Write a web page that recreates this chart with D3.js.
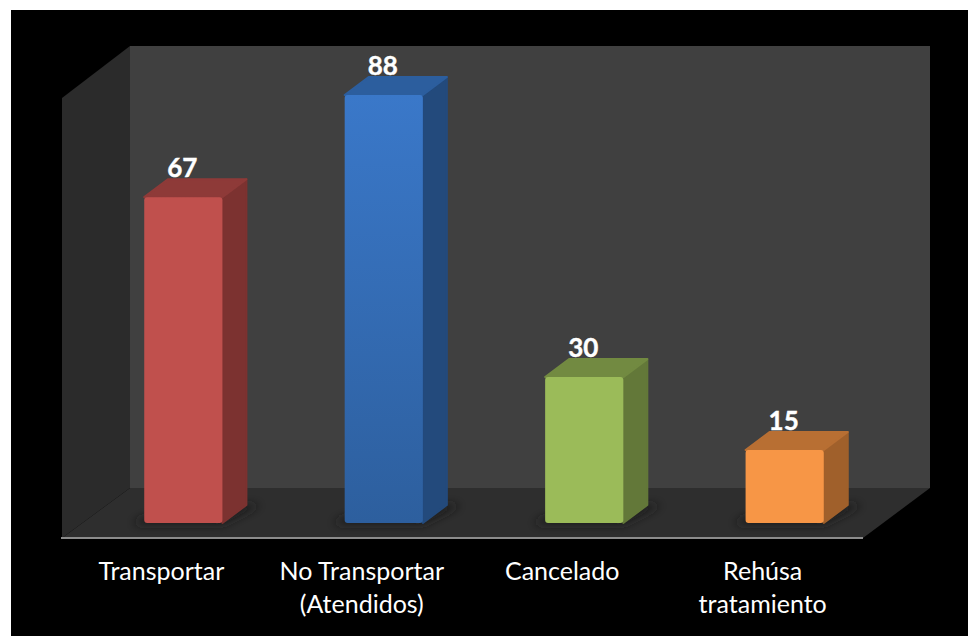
<!DOCTYPE html>
<html>
<head>
<meta charset="utf-8">
<script src="https://cdn.jsdelivr.net/npm/d3@7"></script>
<style>
html, body { margin: 0; padding: 0; background: #fff; }
svg { display: block; }
text { font-family: Lato, "Open Sans", sans-serif; fill: #fff; }
</style>
</head>
<body>
<svg id="chart" width="968" height="636"></svg>
<script>
const categories = ["Transportar", "No Transportar (Atendidos)", "Cancelado", "Rehúsa tratamiento"];
const values = [67, 88, 30, 15];
const labelLines = [["Transportar"], ["No Transportar", "(Atendidos)"], ["Cancelado"], ["Rehúsa", "tratamiento"]];
const frontColors = ["#c0504d", "#3a78c9", "#9bbb59", "#f79646"];
const bottomColors = ["#c0504d", "#2d5f9e", "#9bbb59", "#f79646"];
const topColors = ["#8e3a38", "#2c5e9e", "#728a41", "#b86f33"];
const sideColors = ["#7c3230", "#234a7c", "#637839", "#a0602b"];

const svg = d3.select("#chart");

let x = d3.scaleBand()
    .domain(categories)
    .range([83.5, 884.5])
    .paddingInner(0.61)
    .paddingOuter(0.303);

let y = d3.scaleLinear()
    .domain([0, 88])
    .range([523, 95]);

// depth of the fake 3d
const dx = 24, dy = -18;

let defs = svg.append("defs");

let blur = defs.append("filter").attr("id", "blur")
    .attr("x", "-30%").attr("y", "-100%").attr("width", "160%").attr("height", "300%");
blur.append("feGaussianBlur").attr("stdDeviation", 5);

categories.forEach((c, i) => {
    let g = defs.append("linearGradient").attr("id", "front" + i)
        .attr("x1", 0).attr("y1", 0).attr("x2", 0).attr("y2", 1);
    g.append("stop").attr("offset", "0%").attr("stop-color", frontColors[i]);
    g.append("stop").attr("offset", "100%").attr("stop-color", bottomColors[i]);
});

// page background
svg.append("rect").attr("x", 11).attr("y", 10).attr("width", 957).attr("height", 626).attr("fill", "#000");

// walls and floor
svg.append("path").attr("d", "M130,46H930V488H130Z").attr("fill", "#404040");
svg.append("path").attr("d", "M62,98L130,46V488L62,538Z").attr("fill", "#2b2b2b");
svg.append("path").attr("d", "M62,538L130,488H930L863,538Z").attr("fill", "#2e2e2e");
svg.append("line").attr("x1", 61).attr("x2", 863).attr("y1", 538).attr("y2", 538)
    .attr("stroke", "#8c8c8c").attr("stroke-width", 2);

let bars = svg.selectAll("g.bar")
    .data(categories)
    .enter().append("g")
    .attr("class", "bar");

// shadow on the floor
bars.append("path")
    .attr("d", (d) => {
        let l = x(d), r = l + x.bandwidth(), b = y(0);
        return `M${l - 12},${b + 1}L${r},${b + 1}L${r + dx + 14},${b + dy}L${r + dx - 10},${b + dy}L${r - 10},${b - 6}H${l}Z`;
    })
    .attr("fill", "#1a1a1a")
    .attr("filter", "url(#blur)");

// right side
bars.append("path")
    .attr("d", (d, i) => {
        let r = x(d) + x.bandwidth(), t = y(values[i]), b = y(0);
        return `M${r},${t}L${r + dx},${t + dy}V${b + dy}L${r},${b}Z`;
    })
    .attr("fill", (d, i) => sideColors[i])
    .attr("stroke", (d, i) => sideColors[i])
    .attr("stroke-linejoin", "round")
    .attr("stroke-width", 2);

// top
bars.append("path")
    .attr("d", (d, i) => {
        let l = x(d), r = l + x.bandwidth(), t = y(values[i]);
        return `M${l},${t}L${l + dx},${t + dy}H${r + dx}L${r},${t}Z`;
    })
    .attr("fill", (d, i) => topColors[i])
    .attr("stroke", (d, i) => topColors[i])
    .attr("stroke-linejoin", "round")
    .attr("stroke-width", 2);

// front
bars.append("rect")
    .attr("x", d => x(d))
    .attr("y", (d, i) => y(values[i]))
    .attr("width", x.bandwidth())
    .attr("height", (d, i) => y(0) - y(values[i]))
    .attr("rx", 3)
    .attr("fill", (d, i) => "url(#front" + i + ")");

// value labels
bars.append("text")
    .attr("x", d => x(d) + x.bandwidth() / 2 - 1)
    .attr("y", (d, i) => y(values[i]) + dy - 2)
    .attr("text-anchor", "middle")
    .attr("font-size", 26)
    .attr("font-weight", 700)
    .attr("stroke", "#fff")
    .attr("stroke-width", 0.4)
    .text((d, i) => values[i]);

// category axis, shifted left because of the 3d projection
let xAxis = d3.axisBottom(x).tickSize(0).tickPadding(0);
let axisG = svg.append("g")
    .attr("transform", "translate(-22, 538)")
    .call(xAxis);
axisG.select(".domain").remove();
axisG.selectAll(".tick text").each(function (d, i) {
    let t = d3.select(this).text(null)
        .attr("font-size", 25)
        .attr("font-family", "Lato, 'Open Sans', sans-serif")
        .style("fill", "#fff")
        .attr("y", 0).attr("dy", null);
    labelLines[i].forEach((line, k) => {
        t.append("tspan").attr("x", 0).attr("y", 42 + k * 33).text(line);
    });
});
</script>
</body>
</html>
